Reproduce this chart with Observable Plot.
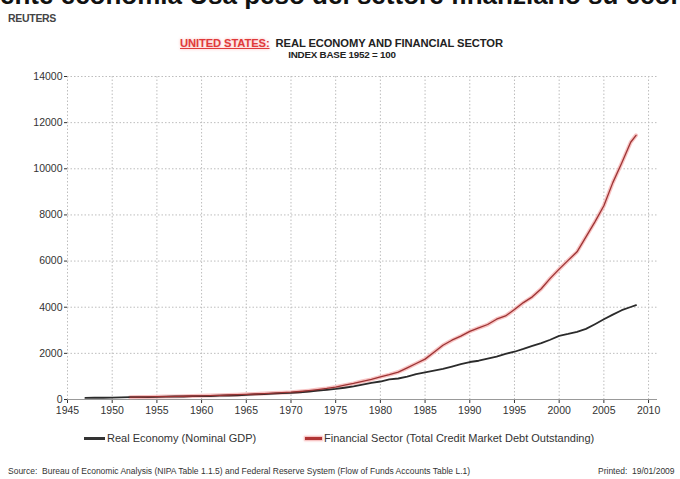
<!DOCTYPE html>
<html><head><meta charset="utf-8">
<script src="https://cdn.jsdelivr.net/npm/d3@7"></script>
<script src="https://cdn.jsdelivr.net/npm/@observablehq/plot@0.6"></script>
<style>
body{margin:0;background:#fff;font-family:"Liberation Sans",Arial,sans-serif;width:680px;height:479px;overflow:hidden;position:relative}
#header{position:relative;height:62px;overflow:hidden}
#bigclip{position:absolute;left:0;top:0;width:680px;height:10px;overflow:hidden}
#bigtitle{position:absolute;left:0px;top:-18px;font-size:26px;line-height:26px;font-weight:bold;color:#111;white-space:nowrap}
#reuters{position:absolute;left:8px;top:12px;font-size:10.5px;font-weight:bold;color:#444;letter-spacing:-0.3px}
#ctitle{position:absolute;left:180px;top:37px;font-size:11.2px;font-weight:bold;color:#222;white-space:nowrap;letter-spacing:-0.1px}
#ctitle .us{color:#e03a3a;text-decoration:underline;text-shadow:0 0 3px #f6a8a8}
#csub{position:absolute;left:0;width:684px;text-align:center;top:49px;font-size:9.8px;font-weight:bold;color:#222;white-space:nowrap;letter-spacing:-0.2px}
#chart{position:absolute;left:0;top:62px}
#legend{position:absolute;left:0;top:430px;font-size:11px;color:#333;white-space:nowrap}
.item{position:absolute;top:0;height:16px;line-height:16px}
.sw{position:absolute;top:7px;height:3px}
#source{position:absolute;left:8px;top:466px;font-size:8.5px;color:#333;white-space:nowrap}
#printed{position:absolute;left:598px;top:466px;font-size:8.5px;color:#333;white-space:nowrap}
</style></head><body>
<div id="header">
  <div id="bigclip"><div id="bigtitle">ente economia Usa peso del settore finanziario su economia reale</div></div>
  <div id="reuters">REUTERS</div>
  <div id="ctitle"><span class="us">UNITED STATES:</span>&nbsp; REAL ECONOMY AND FINANCIAL SECTOR</div>
  <div id="csub">INDEX BASE 1952 = 100</div>
</div>
<div id="chart"></div>
<div id="legend">
  <div class="item" style="left:84px"><div class="sw" style="left:0;width:21px;background:#333"></div><span style="position:absolute;left:23px">Real Economy (Nominal GDP)</span></div>
  <div class="item" style="left:305px"><div class="sw" style="left:0;width:17px;background:#b03434;box-shadow:0 0 2px 1px #f5b0b0"></div><span style="position:absolute;left:19px">Financial Sector (Total Credit Market Debt Outstanding)</span></div>
</div>
<div id="source">Source:&nbsp; Bureau of Economic Analysis (NIPA Table 1.1.5) and Federal Reserve System (Flow of Funds Accounts Table L.1)</div>
<div id="printed">Printed:&nbsp; 19/01/2009</div>
<script>
const gdpYears = [1947,1948,1949,1950,1951,1952,1953,1954,1955,1956,1957,1958,1959,1960,1961,1962,1963,1964,1965,1966,1967,1968,1969,1970,1971,1972,1973,1974,1975,1976,1977,1978,1979,1980,1981,1982,1983,1984,1985,1986,1987,1988,1989,1990,1991,1992,1993,1994,1995,1996,1997,1998,1999,2000,2001,2002,2003,2004,2005,2006,2007,2008,2008.6];
const gdpIndex = [68,75,75,82,95,100,106,106,116,122,129,130,142,147,152,164,173,185,200,220,233,254,275,290,315,346,386,419,458,510,567,641,716,780,874,910,990,1100,1180,1250,1325,1430,1535,1625,1680,1775,1860,1980,2070,2190,2320,2445,2590,2760,2840,2930,3060,3265,3475,3680,3870,4010,4090];
const debtYears = [1952,1953,1954,1955,1956,1957,1958,1959,1960,1961,1962,1963,1964,1965,1966,1967,1968,1969,1970,1971,1972,1973,1974,1975,1976,1977,1978,1979,1980,1981,1982,1983,1984,1985,1986,1987,1988,1989,1990,1991,1992,1993,1994,1995,1996,1997,1998,1999,2000,2001,2002,2003,2004,2005,2006,2007,2008,2008.6];
const debtIndex = [100,106,112,121,127,133,141,152,160,169,181,194,209,224,239,256,277,297,317,347,385,430,480,540,620,700,790,870,980,1080,1190,1370,1560,1750,2050,2350,2570,2750,2950,3100,3250,3480,3620,3900,4200,4450,4800,5250,5650,6030,6400,7050,7700,8400,9400,10250,11150,11450];
const xTicks = [1945,1950,1955,1960,1965,1970,1975,1980,1985,1990,1995,2000,2005,2010];
const yTicks = [0,2000,4000,6000,8000,10000,12000,14000];

const gdp = gdpYears.map((y,i)=>({year:y, value:gdpIndex[i]}));
const debt = debtYears.map((y,i)=>({year:y, value:debtIndex[i]}));

const chart = Plot.plot({
  width: 680,
  height: 361,
  marginLeft: 67,
  marginRight: 23,
  marginTop: 14,
  marginBottom: 24,
  style: {fontFamily: '"Liberation Sans", Arial, sans-serif', fontSize: "10.5px", color: "#333", background: "#fff"},
  x: {domain: [1945, 2011], ticks: xTicks, tickFormat: "d", tickSize: 4, tickPadding: 3, label: null},
  y: {domain: [0, 14000], ticks: yTicks, tickFormat: "d", tickSize: 3, tickPadding: 2, label: null},
  marks: [
    Plot.ruleX(xTicks, {stroke: "#bdbdbd", strokeDasharray: "1.5,2", strokeWidth: 1}),
    Plot.ruleY(yTicks.filter(d=>d>0), {stroke: "#bdbdbd", strokeDasharray: "1.5,2", strokeWidth: 1}),
    Plot.ruleY([0], {stroke: "#999", strokeWidth: 1}),
    Plot.line(debt, {x: "year", y: "value", stroke: "#f6b4b4", strokeWidth: 4, strokeOpacity: 0.8}),
    Plot.line(gdp, {x: "year", y: "value", stroke: "#2b2b2b", strokeWidth: 1.8}),
    Plot.line(debt, {x: "year", y: "value", stroke: "#9c3333", strokeWidth: 1.3})
  ]
});
document.getElementById("chart").appendChild(chart);
</script>
</body></html>
